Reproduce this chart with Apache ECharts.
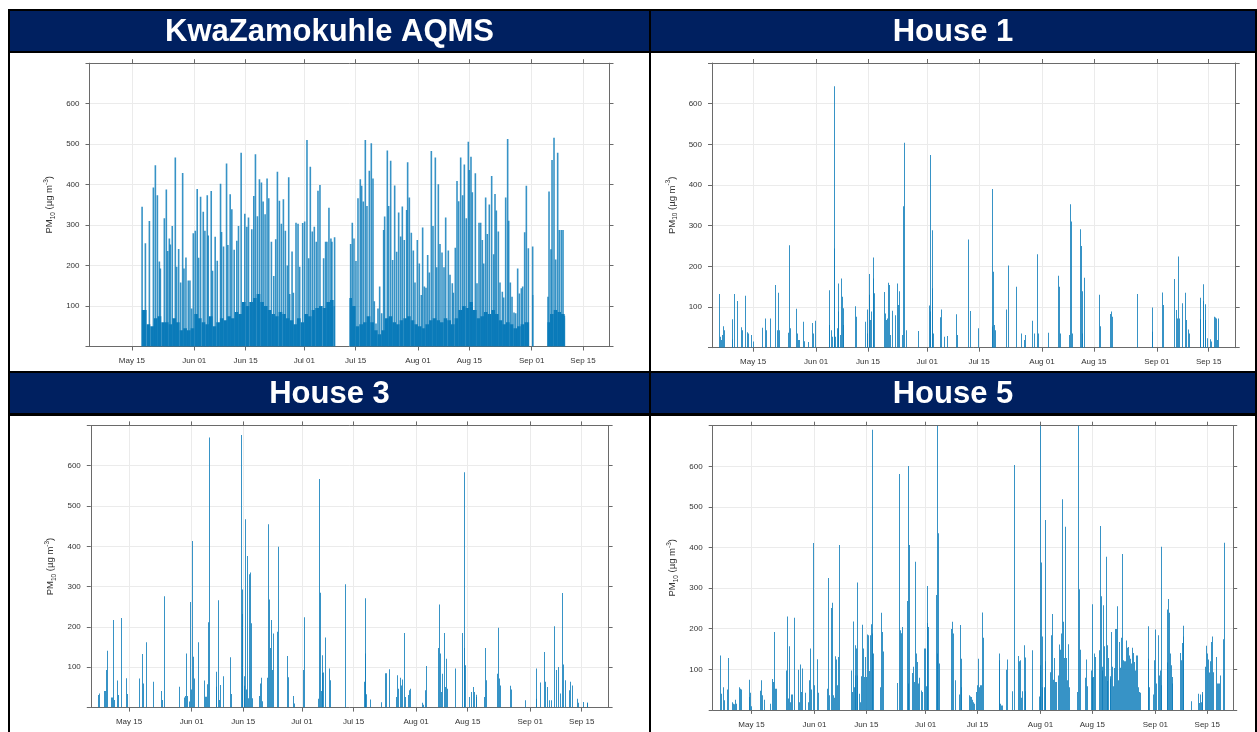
<!DOCTYPE html>
<html><head><meta charset="utf-8">
<script src="https://cdn.jsdelivr.net/npm/echarts@6/dist/echarts.min.js"></script>
<style>html,body{margin:0;padding:0;background:#fff}#c{width:1257px;height:732px}</style>
</head><body><div id="c"></div>
<script>
// Time is expressed in days counted from 1 May 00:00 (e.g. 14 = 15 May 00:00).
var tickDays = [14, 31, 45, 61, 75, 92, 106, 123, 137];
var tickLabels = ['May 15', 'Jun 01', 'Jun 15', 'Jul 01', 'Jul 15', 'Aug 01', 'Aug 15', 'Sep 01', 'Sep 15'];
var yTicks = [0, 100, 200, 300, 400, 500, 600, 700];
var yLabels = [100, 200, 300, 400, 500, 600];
var panelTitles = ['KwaZamokuhle AQMS', 'House 1', 'House 3', 'House 5'];

// KwaZamokuhle AQMS: periods with data, daily background level, and peaks
var aqmsSegments = [[16.7, 69.3], [73.3, 122.3], [123.2, 123.45], [127.3, 132.1]];
var aqmsBaseFirstDay = 16;
var aqmsBase = [90, 90, 55, 50, 70, 75, 60, 60, 55, 70, 60, 40, 45, 40, 45,
  80, 70, 60, 55, 75, 50, 60, 70, 65, 75, 70, 85, 80, 110, 100, 110, 120, 130, 110, 100,
  90, 80, 75, 85, 80, 70, 65, 55, 70, 60, 80, 75, 90, 95, 100, 95, 110, 115, 100,
  null, null, null,
  120, 100, 50, 55, 60, 75, 60, 40, 30, 40, 70, 75, 60, 55, 65, 70, 75, 65, 55, 50,
  45, 55, 65, 70, 65, 60, 70, 65, 55, 70, 90, 100, 95, 110, 90, 70, 75, 85, 80, 90,
  80, 65, 55, 60, 55, 45, 50, 55, 60, 60, 127, null, null, null, 60, 80, 90, 85, 80, 70];
var aqmsDay = [16.77, 17.67, 18.76, 19.85, 20.39, 20.94, 21.48, 21.75, 22.84, 23.38, 23.75, 24.2, 24.47, 25.0, 25.83,
  26.19, 26.74, 27.28, 27.83, 28.19, 28.73, 29.37, 29.82, 30.27, 30.73, 31.27, 31.8, 32.18, 32.72, 33.45, 33.9,
  34.54, 34.8, 35.62, 35.98, 36.7, 37.26, 38.16, 38.43, 38.98, 39.8, 40.16, 40.79, 41.24, 41.88, 42.6, 43.06,
  43.78, 44.78, 45.33, 45.78, 46.68, 47.23, 47.68, 48.22, 48.77, 49.31, 49.77, 50.31, 50.85, 51.31, 52.03, 52.67,
  53.21, 53.67, 54.21, 54.75, 55.3, 55.84, 56.38, 56.75, 57.02, 57.66, 58.02, 58.74, 59.29, 59.74, 60.56, 61.1,
  61.73, 62.19, 62.64, 63.18, 63.73, 64.27, 64.73, 65.27, 66.27, 66.81, 67.17, 67.72, 68.26, 68.53, 69.26,
  73.64, 74.09, 74.55, 75.09, 75.64, 76.27, 76.64, 77.09, 77.64, 78.09, 78.73, 79.27, 79.73, 80.09, 80.55, 81.09,
  81.55, 82.09, 82.64, 82.91, 83.64, 84.0, 84.55, 85.09, 85.64, 86.18, 86.73, 87.27, 87.73, 88.27, 88.91, 89.18,
  89.64, 90.18, 90.73, 91.18, 91.82, 92.36, 92.91, 93.27, 93.73, 94.18, 94.64, 95.09, 95.64, 96.09, 96.73, 97.09,
  97.55, 98.0, 98.55, 99.09, 99.55, 100.27, 100.73, 101.36, 101.64, 102.18, 102.64, 103.09, 103.64, 104.18, 104.64,
  105.18, 105.73, 106.0, 106.45, 106.82, 107.64, 108.09, 108.64, 109.09, 109.55, 109.91, 110.45, 110.91, 111.45,
  112.09, 112.64, 113.0, 113.36, 113.91, 114.36, 115.0, 115.36, 115.91, 116.45, 116.73, 117.18, 117.64, 118.18,
  118.64, 119.18, 119.64, 120.18, 120.55, 121.09, 121.55, 122.09, 123.27,
  127.45, 127.73, 128.27, 128.55, 129.09, 129.55, 130.09, 130.55, 131.09, 131.55, 131.91];
var aqmsVal = [345, 255, 310, 393, 448, 374, 210, 193, 317, 388, 236, 267, 252, 298, 467,
  197, 241, 158, 429, 193, 220, 163, 163, 94, 280, 286, 389, 219, 370, 333, 286,
  374, 274, 384, 187, 271, 212, 402, 283, 247, 452, 251, 376, 339, 239, 261, 298,
  479, 328, 296, 319, 290, 372, 475, 322, 413, 405, 358, 327, 415, 366, 259, 174,
  265, 432, 360, 303, 364, 286, 200, 418, 130, 235, 133, 306, 303, 197, 305, 309,
  510, 218, 444, 284, 296, 259, 385, 399, 218, 259, 259, 343, 267, 259, 270,
  253, 306, 267, 211, 366, 413, 397, 358, 510, 347, 434, 502, 415, 112, 57, 94,
  148, 82, 288, 321, 484, 347, 459, 214, 398, 234, 331, 272, 346, 263, 337, 455,
  368, 281, 237, 158, 263, 205, 127, 294, 148, 145, 226, 183, 483, 298, 467, 196,
  401, 253, 232, 196, 319, 237, 177, 156, 133, 244, 409, 359, 467, 374, 450,
  317, 506, 436, 469, 381, 428, 156, 306, 306, 263, 205, 368, 278, 351,
  421, 228, 377, 336, 284, 158, 135, 121, 368, 513, 311, 158, 123, 84,
  82, 193, 131, 144, 148, 282, 397, 243, 247,
  123, 383, 240, 461, 516, 215, 479, 288, 288, 288, 76];

// House 1
var h1Day = [4.89, 5.09, 5.41, 5.62, 6.04, 6.25, 8.45, 8.55, 8.97, 9.81, 10.86, 11.07, 11.9, 12.53, 12.74, 13.58, 14.0,
  16.51, 17.46, 17.67, 18.61, 19.97, 20.71, 20.91, 21.12, 23.64, 23.85, 24.06, 25.73, 25.94, 26.36, 26.57, 27.72,
  27.93, 28.88, 30.03, 30.24, 30.76, 34.53, 34.74, 35.06, 35.37, 35.9, 36.0, 36.21, 36.74, 36.94, 37.15, 37.47,
  37.78, 38.1, 38.31, 38.52, 41.66, 41.87, 44.38, 44.8, 45.01, 45.33, 45.54, 45.75, 46.06, 46.37, 46.58, 46.79,
  49.41, 49.62, 49.94, 50.25, 50.67, 50.88, 51.09, 51.72, 52.56, 52.87, 53.19, 53.5, 54.44, 54.65, 54.86, 55.49,
  58.53, 61.57, 61.77, 61.98, 62.3, 62.51, 62.61, 64.71, 64.92, 65.55, 66.59, 68.9, 69.11, 72.25, 72.57, 74.98,
  78.54, 78.75, 78.96, 79.17, 79.48, 82.52, 82.83, 85.24, 86.5, 87.34, 87.55, 89.54, 89.85, 90.69, 91.11, 93.63,
  96.35, 96.66, 96.87, 99.49, 99.7, 99.91, 100.12, 102.32, 102.63, 102.84, 103.05, 103.37, 107.45, 107.66,
  110.6, 110.81, 111.12, 117.72, 121.7, 121.91, 124.53, 124.74, 127.88, 128.2, 128.51, 128.83, 129.04, 129.88,
  130.72, 131.03, 131.55, 131.76, 134.69, 134.9, 135.53, 135.74, 136.06, 136.27, 136.58, 137.52, 137.73, 138.47,
  138.78, 139.1, 139.41, 139.62];
var h1Val = [132, 27, 19, 31, 53, 43, 70, 20, 132, 115, 50, 43, 128, 38, 35, 31, 15,
  49, 72, 43, 72, 154, 43, 135, 43, 37, 252, 48, 96, 35, 19, 19, 64,
  16, 14, 61, 35, 66, 141, 56, 43, 27, 643, 244, 27, 48, 158, 89, 31,
  170, 125, 56, 97, 102, 76, 64, 35, 94, 130, 181, 68, 89, 222, 170, 134,
  137, 84, 68, 72, 160, 154, 31, 91, 80, 158, 105, 139, 31, 348, 504, 43,
  41, 104, 474, 89, 146, 289, 35, 75, 94, 27, 29, 82, 31, 266, 90, 48,
  52, 390, 187, 56, 43, 94, 202, 150, 35, 19, 31, 66, 35, 230, 35, 37,
  177, 150, 35, 31, 353, 310, 35, 291, 250, 139, 35, 172, 130, 53,
  83, 89, 76, 132, 99, 39, 136, 105, 169, 93, 72, 224, 72, 109,
  135, 68, 45, 35, 123, 70, 156, 115, 107, 68, 23, 21, 15, 76,
  74, 72, 19, 72];

// House 3
var h3Day = [5.7, 5.88, 7.33, 7.51, 7.96, 8.14, 9.23, 9.41, 9.77, 9.95, 10.86, 11.04, 11.85, 13.3, 13.48, 16.74,
  17.65, 17.92, 18.74, 20.73, 22.81, 23.08, 23.72, 27.61, 29.06, 29.42, 29.7, 29.88, 30.42, 30.69, 30.87, 31.23,
  31.41, 31.68, 32.86, 34.58, 34.76, 35.04, 35.31, 35.67, 35.85, 37.66, 37.84, 38.29, 38.56, 38.75, 39.56, 41.65,
  41.83, 44.55, 44.73, 44.91, 45.27, 45.45, 45.63, 45.91, 46.09, 46.36, 46.63, 46.9, 47.17, 47.44, 49.53, 49.8,
  50.07, 50.34, 51.61, 51.88, 52.15, 52.51, 52.69, 52.97, 53.33, 54.42, 54.69, 57.13, 57.4, 58.67, 58.94, 61.39,
  61.66, 65.37, 65.64, 65.91, 66.18, 66.46, 66.64, 66.91, 67.27, 68.45, 68.72, 72.79, 77.86, 78.14, 78.32, 78.59,
  79.59, 82.48, 83.66, 83.84, 84.66, 86.54, 86.88, 87.1, 87.78, 88.0, 88.34, 88.79, 89.02, 89.81, 90.15, 90.37,
  93.64, 93.98, 94.54, 94.88, 98.14, 98.37, 98.59, 98.82, 99.16, 99.72, 99.94, 100.17, 100.39, 102.65, 104.67,
  105.01, 105.24, 105.46, 106.59, 107.04, 107.6, 107.94, 108.28, 108.5, 110.53, 110.98, 111.21, 114.14, 114.36,
  114.59, 114.93, 117.63, 117.97, 121.68, 124.61, 124.84, 125.85, 126.86, 127.2, 127.65, 128.21, 128.78, 129.68,
  130.02, 130.58, 131.26, 131.82, 132.05, 132.72, 133.62, 134.07, 134.41, 135.76, 135.99, 137.57, 138.47, 138.69];
var h3Val = [31, 35, 41, 41, 93, 141, 25, 25, 217, 19, 67, 31, 222, 73, 34, 72,
  133, 60, 162, 64, 41, 19, 276, 52, 25, 29, 134, 29, 15, 262, 45, 413,
  126, 72, 162, 67, 27, 27, 58, 212, 670, 89, 52, 266, 19, 56, 78, 125,
  34, 676, 293, 232, 54, 78, 467, 45, 376, 23, 331, 335, 209, 23, 29, 60,
  74, 16, 74, 455, 268, 148, 217, 93, 184, 188, 399, 128, 75, 29, 10, 93,
  224, 22, 567, 285, 41, 86, 130, 87, 174, 97, 68, 306, 64, 134, 271, 33,
  20, 13, 85, 85, 95, 26, 80, 47, 74, 55, 70, 185, 26, 31, 43, 47,
  12, 7, 43, 103, 148, 256, 134, 39, 84, 185, 51, 121, 47, 97, 185,
  148, 584, 105, 26, 39, 51, 39, 26, 32, 26, 148, 68, 84, 198,
  72, 55, 54, 45, 18, 22, 97, 62, 138, 64, 51, 18, 18, 202,
  93, 101, 35, 284, 107, 68, 43, 64, 55, 22, 12, 14, 12, 12];

// House 5
var h5Day = [5.61, 5.79, 6.42, 6.6, 7.5, 7.78, 8.86, 9.12, 9.4, 9.67, 9.94, 10.75, 11.02, 11.2, 13.37, 13.55, 13.73,
  13.91, 16.44, 16.71, 16.98, 17.52, 19.14, 19.59, 19.86, 20.13, 20.4, 20.68, 23.47, 23.74, 24.01, 24.28, 24.55,
  24.74, 25.01, 25.55, 26.63, 26.9, 27.26, 27.53, 27.8, 28.61, 29.43, 29.7, 29.97, 30.15, 30.78, 31.05, 31.86,
  32.04, 34.57, 34.84, 35.11, 35.47, 35.74, 36.01, 36.46, 36.73, 37.0, 37.27, 37.55, 37.82, 40.97, 41.24, 41.42,
  41.7, 41.97, 42.15, 42.33, 42.51, 42.69, 43.14, 43.41, 43.77, 44.04, 44.31, 44.49, 44.76, 45.03, 45.3, 45.57,
  45.84, 46.12, 46.39, 46.57, 46.75, 47.02, 48.91, 49.18, 49.45, 49.72, 53.33, 54.05, 54.23, 54.5, 54.87, 56.04,
  56.31, 56.49, 56.67, 57.48, 57.84, 58.11, 58.38, 58.66, 58.93, 59.2, 59.47, 59.92, 60.28, 60.64, 60.91, 61.18,
  61.45, 61.63, 61.81, 63.89, 64.07, 64.25, 64.52, 64.7, 68.04, 68.31, 68.58, 68.94, 70.02, 70.29, 70.56, 70.74,
  72.82, 73.09, 73.36, 73.63, 73.9, 74.17, 74.82, 75.09, 75.36, 75.63, 75.9, 76.17, 76.35, 76.53, 80.84, 81.02,
  81.29, 81.56, 81.83, 82.91, 83.09, 84.43, 84.88, 86.05, 86.32, 86.59, 86.86, 87.13, 87.58, 87.85, 88.03, 89.73,
  91.71, 91.89, 92.07, 92.25, 92.43, 92.61, 92.97, 93.24, 93.42, 94.77, 94.95, 95.22, 95.49, 95.75, 96.02, 96.29,
  96.92, 97.19, 97.37, 97.64, 97.82, 98.09, 98.36, 98.63, 98.9, 99.17, 99.62, 99.89, 101.95, 102.22, 102.49,
  102.76, 104.02, 104.29, 104.56, 105.73, 105.91, 106.09, 106.27, 106.45, 106.72, 107.88, 108.06, 108.33, 108.6,
  108.78, 108.96, 109.14, 109.41, 109.68, 109.95, 110.13, 110.4, 110.76, 110.94, 111.21, 111.48, 111.66, 111.93,
  112.2, 112.47, 112.74, 112.92, 113.19, 113.46, 113.81, 114.08, 114.35, 114.62, 114.89, 115.16, 115.43, 115.7,
  115.97, 116.24, 116.6, 116.87, 117.14, 117.41, 117.68, 117.95, 118.22, 118.49, 118.76, 119.03, 121.09, 121.27,
  121.45, 122.62, 122.89, 123.16, 123.34, 123.97, 124.24, 124.42, 124.6, 124.78, 126.21, 126.39, 126.57, 126.84,
  127.11, 127.38, 127.56, 127.74, 129.72, 129.99, 130.35, 130.53, 130.71, 132.68, 134.57, 134.84, 135.11, 135.47,
  135.65, 135.83, 136.64, 136.91, 137.17, 137.35, 137.62, 137.89, 138.07, 138.34, 138.61, 139.6, 139.87, 140.14,
  140.41, 140.59, 141.4, 141.67];
var h5Val = [134, 40, 56, 24, 50, 128, 19, 15, 14, 25, 15, 56, 52, 50, 32, 74, 42,
  9, 47, 73, 36, 25, 15, 76, 69, 192, 52, 52, 97, 230, 28, 157, 19,
  38, 38, 227, 99, 19, 112, 44, 102, 42, 19, 73, 151, 50, 411, 61, 125,
  42, 52, 325, 36, 251, 264, 36, 30, 132, 124, 61, 130, 406, 97, 44, 218,
  56, 159, 85, 151, 85, 314, 40, 19, 83, 210, 151, 81, 130, 81, 186, 184,
  96, 184, 211, 188, 690, 139, 56, 239, 192, 144, 66, 581, 196, 189, 204, 268,
  65, 601, 406, 91, 106, 69, 365, 139, 118, 65, 79, 48, 44, 151, 151, 58,
  214, 305, 204, 283, 139, 720, 435, 114, 199, 217, 188, 73, 38, 209, 126, 56,
  36, 33, 32, 25, 19, 15, 44, 61, 126, 56, 61, 61, 240, 178, 139, 122,
  15, 11, 11, 99, 124, 46, 603, 133, 120, 122, 30, 46, 159, 129, 46, 147,
  33, 110, 740, 363, 181, 56, 56, 468, 120, 93, 184, 236, 74, 128, 69, 69,
  85, 161, 148, 188, 519, 217, 128, 451, 128, 73, 162, 56, 44, 720, 297,
  148, 79, 124, 58, 97, 260, 79, 81, 139, 130, 147, 453, 280, 97,
  106, 258, 157, 83, 377, 71, 159, 128, 77, 83, 192, 106, 58, 103,
  199, 199, 255, 73, 167, 104, 178, 384, 122, 120, 120, 171, 153, 155,
  134, 126, 114, 153, 140, 118, 97, 134, 134, 56, 44, 42, 206, 126,
  56, 38, 122, 198, 65, 184, 85, 97, 402, 61, 247, 117, 273, 239,
  139, 110, 65, 81, 140, 122, 165, 181, 207, 21, 40, 17, 38, 19,
  44, 38, 106, 158, 139, 124, 92, 120, 167, 181, 93, 130, 65, 65,
  65, 85, 174, 412];

// ---------------- chart building ----------------
var FONT = "'Liberation Sans', Arial, sans-serif";
var AXIS_COL = '#6a6a6a';
var BAR_COL = '#0b7bba';
var SPIKE_COL = 'rgba(11,123,186,0.82)';

var panels = [
  {left: 89.5, top: 63.2, width: 520, height: 283.3, xmin: 2.43, xmax: 144.22, spikeW: 1.6},
  {left: 712, top: 63.0, width: 523.7, height: 284.7, xmin: 2.89, xmax: 144.3, spikeW: 1},
  {left: 90.8, top: 425.4, width: 517.8, height: 282.2, xmin: 3.6, xmax: 144.3, spikeW: 1},
  {left: 712.7, top: 425.7, width: 520.5, height: 284.2, xmin: 3.54, xmax: 144.0, spikeW: 1}
];

function zip(a, b) { var r = []; for (var i = 0; i < a.length; i++) r.push([a[i], b[i]]); return r; }

var aqmsBaseData = [];
aqmsSegments.forEach(function (s) {
  for (var d = Math.floor(s[0]); d < s[1]; d++) {
    var v = aqmsBase[d - aqmsBaseFirstDay];
    if (v == null) continue;
    aqmsBaseData.push([Math.max(d, s[0]), Math.min(d + 1, s[1]), v]);
  }
});

function makeSpikeRender(w) {
  return function (params, api) {
    var t = api.value(0), v = api.value(1);
    var b = api.coord([t, 0]), p = api.coord([t, v]);
    var x = w === 1 ? Math.floor(b[0]) : b[0] - w / 2;
    return {type: 'rect', shape: {x: x, y: p[1], width: w, height: b[1] - p[1]},
            style: {fill: SPIKE_COL}};
  };
}
function baseRender(params, api) {
  var a = api.coord([api.value(0), 0]), b = api.coord([api.value(1), api.value(2)]);
  return {type: 'rect', shape: {x: a[0], y: b[1], width: b[0] - a[0], height: a[1] - b[1]},
          style: {fill: BAR_COL}};
}

var grids = [], xAxes = [], yAxes = [], series = [];
var seriesData = [zip(aqmsDay, aqmsVal), zip(h1Day, h1Val), zip(h3Day, h3Val), zip(h5Day, h5Val)];

panels.forEach(function (p, i) {
  grids.push({left: p.left, top: p.top, width: p.width, height: p.height, outerBoundsMode: 'none', containLabel: false});
  var tickCommon = {show: true, length: 4, inside: false, lineStyle: {color: AXIS_COL, width: 1}};
  xAxes.push({
    type: 'value', gridIndex: i, position: 'bottom', min: p.xmin, max: p.xmax,
    axisLine: {show: true, onZero: false, lineStyle: {color: AXIS_COL, width: 1}},
    axisTick: Object.assign({customValues: tickDays}, tickCommon),
    axisLabel: {show: true, customValues: tickDays, margin: 10.5, fontSize: 8, fontFamily: FONT, color: '#333',
      formatter: function (v) { var k = tickDays.indexOf(Math.round(v)); return k >= 0 ? tickLabels[k] : ''; }},
    splitLine: {show: true, lineStyle: {color: '#ebebeb', width: 1}}
  });
  xAxes.push({
    type: 'value', gridIndex: i, position: 'top', min: p.xmin, max: p.xmax,
    axisLine: {show: true, onZero: false, lineStyle: {color: AXIS_COL, width: 1}},
    axisTick: Object.assign({customValues: tickDays}, tickCommon),
    axisLabel: {show: false}, splitLine: {show: false}
  });
  yAxes.push({
    type: 'value', gridIndex: i, position: 'left', min: 0, max: 700, interval: 100,
    axisLine: {show: true, onZero: false, lineStyle: {color: AXIS_COL, width: 1}},
    axisTick: Object.assign({customValues: yTicks}, tickCommon),
    axisLabel: {show: true, customValues: yLabels, margin: 10, fontSize: 8, fontFamily: FONT, color: '#333'},
    splitLine: {show: true, lineStyle: {color: '#ebebeb', width: 1}},
    name: '{a|PM}{b|10}{a| (µg m}{c|-3}{a|)}',
    nameLocation: 'middle', nameRotate: 90, nameGap: 33,
    nameTextStyle: {fontFamily: FONT, color: '#333', fontSize: 9.5,
      rich: {
        a: {fontFamily: FONT, color: '#333', fontSize: 9.5, lineHeight: 14},
        b: {fontFamily: FONT, color: '#333', fontSize: 6.5, lineHeight: 8, verticalAlign: 'bottom'},
        c: {fontFamily: FONT, color: '#333', fontSize: 6.5, lineHeight: 8, verticalAlign: 'top'}
      }}
  });
  yAxes.push({
    type: 'value', gridIndex: i, position: 'right', min: 0, max: 700, interval: 100,
    axisLine: {show: true, onZero: false, lineStyle: {color: AXIS_COL, width: 1}},
    axisTick: Object.assign({customValues: yTicks}, tickCommon),
    axisLabel: {show: false}, splitLine: {show: false}
  });
  if (i === 0) {
    series.push({type: 'custom', name: 'base', coordinateSystem: 'cartesian2d', xAxisIndex: 0, yAxisIndex: 0,
      data: aqmsBaseData, renderItem: baseRender, clip: true, silent: true, animation: false, z: 2,
      encode: {x: [0, 1], y: 2}});
  }
  series.push({type: 'custom', name: panelTitles[i], coordinateSystem: 'cartesian2d', xAxisIndex: 2 * i, yAxisIndex: 2 * i,
    data: seriesData[i], renderItem: makeSpikeRender(p.spikeW), clip: true, silent: true, animation: false, z: 3,
    encode: {x: 0, y: 1}});
});

// frame (borders and title bands)
var NAVY = '#002060';
var frame = [
  {x: 8, y: 9, w: 1249, h: 2, c: '#000'}, {x: 8, y: 9, w: 2, h: 723, c: '#000'},
  {x: 1255, y: 9, w: 2, h: 723, c: '#000'}, {x: 649, y: 9, w: 2, h: 723, c: '#000'},
  {x: 8, y: 51, w: 1249, h: 2, c: '#000'}, {x: 8, y: 371, w: 1249, h: 2, c: '#000'},
  {x: 8, y: 413, w: 1249, h: 3, c: '#000'},
  {x: 10, y: 11, w: 639, h: 40, c: NAVY}, {x: 651, y: 11, w: 604, h: 40, c: NAVY},
  {x: 10, y: 373, w: 639, h: 40, c: NAVY}, {x: 651, y: 373, w: 604, h: 40, c: NAVY}
];
var titlePos = [[329.5, 32], [953, 32], [329.5, 394], [953, 394]];
var graphics = frame.map(function (f) {
  return {type: 'rect', shape: {x: f.x, y: f.y, width: f.w, height: f.h}, style: {fill: f.c}, silent: true, z: 10};
});
panelTitles.forEach(function (t, i) {
  graphics.push({type: 'text', x: titlePos[i][0], y: titlePos[i][1], z: 20, silent: true,
    style: {text: t, fill: '#fff', font: "bold 31px 'Liberation Sans', Arial, sans-serif", textAlign: 'center', textVerticalAlign: 'middle'}});
});

var chart = echarts.init(document.getElementById('c'), null, {renderer: 'canvas'});
chart.setOption({
  animation: false,
  backgroundColor: '#fff',
  grid: grids, xAxis: xAxes, yAxis: yAxes, series: series,
  graphic: {elements: graphics}
});
</script></body></html>
